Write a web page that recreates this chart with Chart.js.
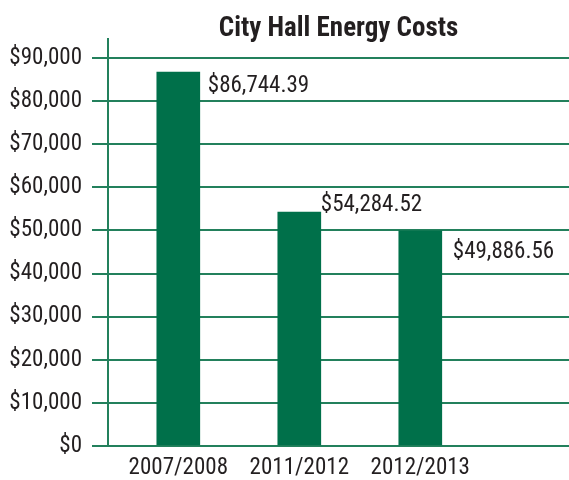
<!DOCTYPE html>
<html>
<head>
<meta charset="utf-8">
<title>City Hall Energy Costs</title>
<script src="https://cdn.jsdelivr.net/npm/chart.js@4/dist/chart.umd.min.js"></script>
<style>
  html, body { margin: 0; padding: 0; background: #fff; }
  canvas { display: block; }
</style>
</head>
<body>
<canvas id="graficoEnergia" width="569" height="480"></canvas>
<script>
// dados do gráfico
const anos = ['2007/2008', '2011/2012', '2012/2013'];
const custos = [86744.39, 54284.52, 49886.56];
const rotulosCustos = ['$86,744.39', '$54,284.52', '$49,886.56'];
const ticksY = [0, 10000, 20000, 30000, 40000, 50000, 60000, 70000, 80000, 90000];

const fonte = "'Roboto Condensed', 'DejaVu Sans Condensed', sans-serif";
const verde = '#00704a';
const verdeGrade = '#23805c';
const corTexto = '#231f20';

// deslocamento de cada rótulo em relação ao topo/lado direito da barra
const ajusteRotulos = [[8, 20], [0, -1], [11, 27]];

const rotulosBarras = {
    id: 'rotulosBarras',
    afterDatasetsDraw(chart) {
        const ctx = chart.ctx;
        const meta = chart.getDatasetMeta(0);
        ctx.save();
        ctx.font = '23px ' + fonte;
        ctx.fillStyle = corTexto;
        ctx.textAlign = 'left';
        ctx.textBaseline = 'alphabetic';
        meta.data.forEach(function (barra, i) {
            const x = barra.x + barra.width / 2 + ajusteRotulos[i][0];
            const y = barra.y + ajusteRotulos[i][1];
            ctx.fillText(rotulosCustos[i], x, y);
        });
        ctx.restore();
    }
};

const config = {
    type: 'bar',
    data: {
        datasets: [{
            data: custos.map((v, i) => ({ x: i, y: v })),
            backgroundColor: verde,
            barThickness: 43,
            borderWidth: 0
        }]
    },
    options: {
        responsive: false,
        animation: false,
        layout: { padding: 0 },
        plugins: {
            legend: { display: false },
            tooltip: { enabled: false },
            title: {
                display: true,
                text: 'City Hall Energy Costs',
                fullSize: false,
                color: corTexto,
                font: { family: fonte, size: 27, weight: 'bold', lineHeight: 0.74 },
                padding: { top: 19, bottom: 0 }
            }
        },
        scales: {
            x: {
                type: 'linear',
                offset: false,
                min: -0.581,
                max: 3.229,
                afterBuildTicks(scale) {
                    scale.ticks = anos.map((a, i) => ({ value: i }));
                },
                afterFit(scale) { scale.height = 34; },
                grid: { display: false, drawTicks: false, offset: false },
                border: { display: false },
                ticks: {
                    color: corTexto,
                    font: { family: fonte, size: 23 },
                    padding: 8,
                    maxRotation: 0,
                    autoSkip: false,
                    callback: (v) => anos[v] ?? ''
                }
            },
            y: {
                min: 0,
                max: 94410,
                afterBuildTicks(scale) {
                    scale.ticks = ticksY.map(v => ({ value: v }));
                },
                afterFit(scale) { scale.width = 108; },
                grid: {
                    color: verdeGrade,
                    lineWidth: 2,
                    tickLength: 16,
                    drawTicks: true
                },
                border: { display: true, color: verdeGrade, width: 2 },
                ticks: {
                    color: corTexto,
                    font: { family: fonte, size: 23 },
                    padding: 10,
                    autoSkip: false,
                    callback: (v) => '$' + v.toLocaleString('en-US')
                }
            }
        }
    },
    plugins: [rotulosBarras]
};

new Chart(document.getElementById('graficoEnergia'), config);
</script>
</body>
</html>
